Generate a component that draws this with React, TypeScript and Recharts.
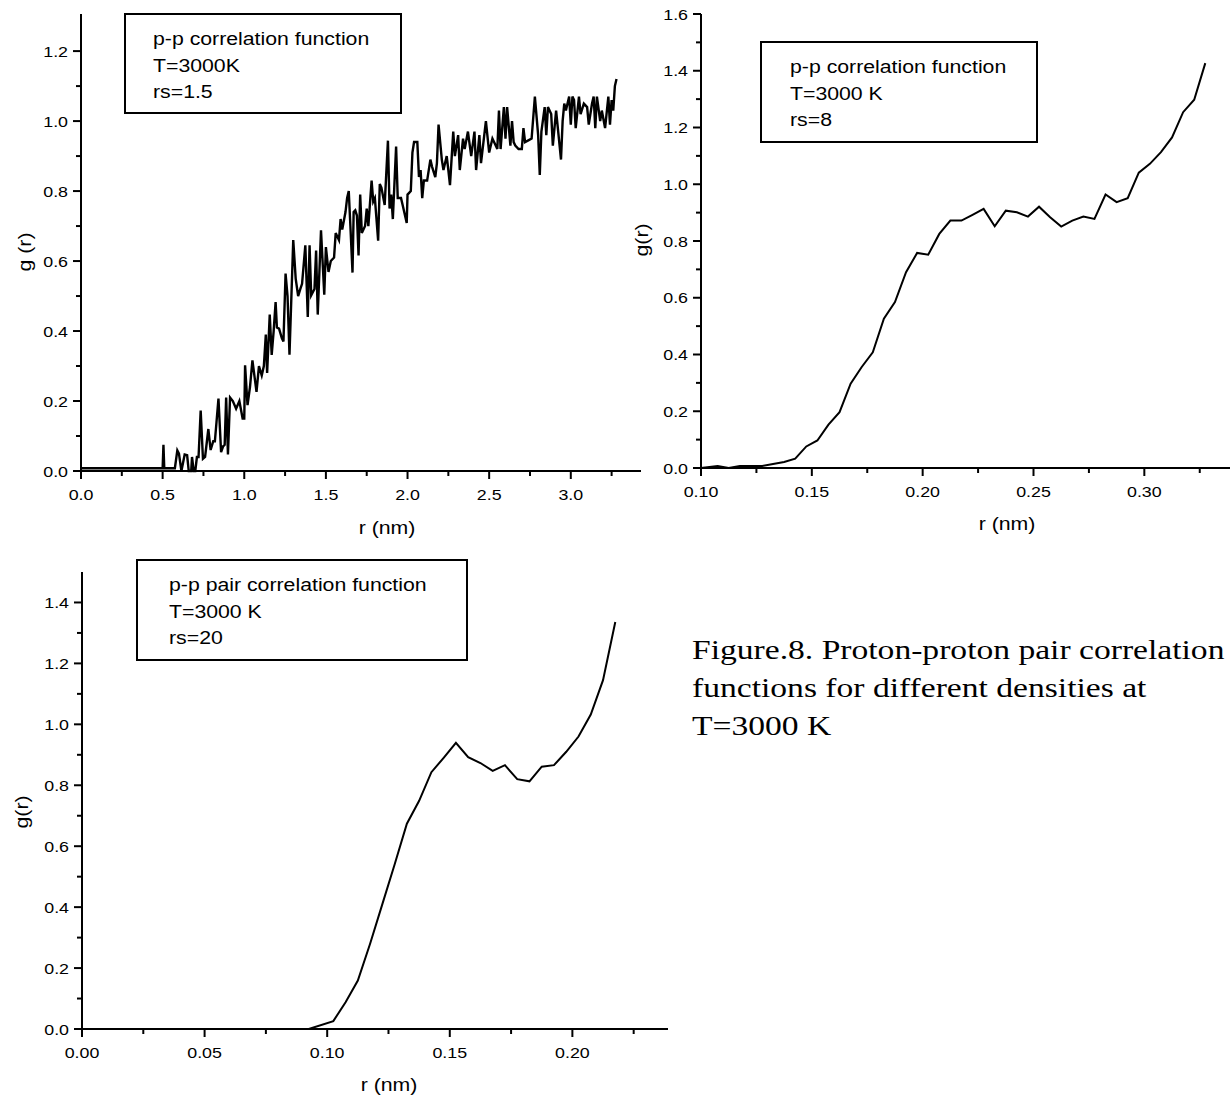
import React from "react";
import { Line, LineChart, XAxis, YAxis } from "recharts";

// text in the scan is a little wider than plain Arial
const SX = 1.15;
const SANS = "'Liberation Sans', Arial, Helvetica, sans-serif";
const SERIF = "'Liberation Serif', 'Times New Roman', serif";

// rs = 1.5
const P1_R = [
  0.0, 0.5, 0.505, 0.51, 0.575, 0.59, 0.6, 0.615, 0.635, 0.65, 0.66, 0.675, 0.68, 0.69, 0.7, 0.71, 0.72,
  0.733, 0.747, 0.76, 0.77, 0.78, 0.794, 0.81, 0.82, 0.83, 0.842, 0.858, 0.87, 0.88, 0.889, 0.9, 0.913,
  0.93, 0.95, 0.97, 0.99, 1.0, 1.005, 1.02, 1.035, 1.05, 1.075, 1.09, 1.107, 1.12, 1.132, 1.14, 1.156,
  1.168, 1.18, 1.192, 1.2, 1.213, 1.23, 1.24, 1.253, 1.265, 1.277, 1.3, 1.315, 1.33, 1.343, 1.354, 1.374,
  1.389, 1.4, 1.41, 1.43, 1.44, 1.45, 1.47, 1.49, 1.5, 1.516, 1.53, 1.55, 1.56, 1.58, 1.59, 1.6, 1.62,
  1.63, 1.64, 1.65, 1.663, 1.67, 1.68, 1.69, 1.7, 1.71, 1.72, 1.74, 1.75, 1.76, 1.78, 1.79, 1.8, 1.82,
  1.83, 1.84, 1.86, 1.88, 1.89, 1.9, 1.91, 1.93, 1.94, 1.96, 1.97, 1.995, 2.0, 2.02, 2.03, 2.04, 2.06,
  2.07, 2.08, 2.09, 2.1, 2.12, 2.14, 2.15, 2.17, 2.18, 2.19, 2.21, 2.22, 2.24, 2.25, 2.26, 2.28, 2.29,
  2.31, 2.32, 2.34, 2.35, 2.37, 2.39, 2.41, 2.42, 2.44, 2.45, 2.47, 2.48, 2.5, 2.52, 2.53, 2.55, 2.56,
  2.57, 2.59, 2.6, 2.61, 2.63, 2.64, 2.65, 2.66, 2.68, 2.7, 2.71, 2.72, 2.74, 2.76, 2.78, 2.8, 2.81,
  2.82, 2.84, 2.85, 2.86, 2.88, 2.89, 2.91, 2.94, 2.95, 2.96, 2.97, 2.99, 3.0, 3.01, 3.02, 3.03, 3.05,
  3.06, 3.08, 3.1, 3.11, 3.13, 3.14, 3.15, 3.16, 3.18, 3.19, 3.21, 3.23, 3.24, 3.25, 3.26, 3.27, 3.28,
];
const P1_G = [
  0.008, 0.008, 0.075, 0.008, 0.008, 0.059, 0.05, 0.0, 0.047, 0.045, 0.0, 0.0, 0.04, 0.0, 0.0, 0.04, 0.04,
  0.173, 0.035, 0.04, 0.08, 0.12, 0.06, 0.085, 0.085, 0.14, 0.207, 0.054, 0.07, 0.075, 0.21, 0.047, 0.21,
  0.2, 0.178, 0.2, 0.15, 0.15, 0.302, 0.188, 0.24, 0.316, 0.226, 0.3, 0.273, 0.3, 0.39, 0.28, 0.447,
  0.332, 0.4, 0.483, 0.41, 0.407, 0.38, 0.37, 0.564, 0.5, 0.332, 0.66, 0.55, 0.5, 0.52, 0.535, 0.645,
  0.44, 0.645, 0.502, 0.52, 0.63, 0.447, 0.688, 0.504, 0.64, 0.569, 0.6, 0.61, 0.68, 0.66, 0.72, 0.69, 0.74,
  0.78, 0.8, 0.7, 0.567, 0.74, 0.745, 0.73, 0.616, 0.79, 0.68, 0.7, 0.75, 0.7, 0.83, 0.77, 0.78, 0.658,
  0.82, 0.81, 0.76, 0.944, 0.75, 0.79, 0.72, 0.927, 0.78, 0.78, 0.76, 0.709, 0.79, 0.8, 0.91, 0.94, 0.94,
  0.84, 0.86, 0.78, 0.83, 0.83, 0.89, 0.87, 0.84, 0.88, 0.99, 0.89, 0.86, 0.9, 0.86, 0.817, 0.97, 0.9,
  0.96, 0.86, 0.95, 0.92, 0.97, 0.9, 0.97, 0.86, 0.96, 0.88, 0.96, 1.0, 0.91, 0.95, 0.94, 0.92, 1.03,
  0.92, 1.04, 0.95, 1.04, 0.93, 1.0, 0.94, 0.93, 0.92, 0.92, 0.98, 0.94, 0.945, 0.95, 1.07, 0.96, 0.846,
  0.97, 1.04, 0.96, 1.04, 1.02, 0.93, 1.03, 0.89, 1.0, 1.05, 1.03, 1.07, 0.99, 1.07, 1.06, 0.98, 1.07,
  1.02, 1.05, 1.04, 0.99, 1.05, 1.07, 0.98, 1.07, 1.0, 1.03, 0.98, 1.07, 0.99, 1.06, 1.03, 1.1, 1.12,
];
const P1_X_TICKS = [0, 0.25, 0.5, 0.75, 1.0, 1.25, 1.5, 1.75, 2.0, 2.25, 2.5, 2.75, 3.0, 3.25];
const P1_X_LABELS = [0, 0.5, 1.0, 1.5, 2.0, 2.5, 3.0];
const P1_Y_TICKS = [0, 0.1, 0.2, 0.3, 0.4, 0.5, 0.6, 0.7, 0.8, 0.9, 1.0, 1.1, 1.2];
const P1_Y_LABELS = [0, 0.2, 0.4, 0.6, 0.8, 1.0, 1.2];

// rs = 8
const P2_R = [
  0.1, 0.1075, 0.1125, 0.1175, 0.1225, 0.1275, 0.1325, 0.1375, 0.1425, 0.1475, 0.1525, 0.1575, 0.1625,
  0.1675, 0.1725, 0.1775, 0.1825, 0.1875, 0.1925, 0.1975, 0.2025, 0.2075, 0.2125, 0.2175, 0.2225, 0.2275,
  0.2325, 0.2375, 0.2425, 0.2475, 0.2525, 0.2575, 0.2625, 0.2675, 0.2725, 0.2775, 0.2825, 0.2875, 0.2925,
  0.2975, 0.3025, 0.3075, 0.3125, 0.3175, 0.3225, 0.3275,
];
const P2_G = [
  0, 0.007, 0, 0.007, 0.007, 0.007, 0.014, 0.021, 0.033, 0.076, 0.097, 0.153, 0.197, 0.297, 0.356, 0.408,
  0.526, 0.585, 0.69, 0.758, 0.752, 0.825, 0.872, 0.872, 0.892, 0.913, 0.852, 0.907, 0.901, 0.886, 0.921,
  0.884, 0.851, 0.872, 0.886, 0.878, 0.964, 0.937, 0.951, 1.041, 1.072, 1.113, 1.165, 1.254, 1.298, 1.427,
];
const P2_X_TICKS = [0.1, 0.125, 0.15, 0.175, 0.2, 0.225, 0.25, 0.275, 0.3, 0.325];
const P2_X_LABELS = [0.1, 0.15, 0.2, 0.25, 0.3];
const P2_Y_TICKS = [0, 0.1, 0.2, 0.3, 0.4, 0.5, 0.6, 0.7, 0.8, 0.9, 1.0, 1.1, 1.2, 1.3, 1.4, 1.5, 1.6];
const P2_Y_LABELS = [0, 0.2, 0.4, 0.6, 0.8, 1.0, 1.2, 1.4, 1.6];

// rs = 20
const P3_R = [
  0.0025, 0.0925, 0.1025, 0.1075, 0.1125, 0.1175, 0.1225, 0.1275, 0.1325, 0.1375, 0.1425, 0.1475, 0.1525,
  0.1575, 0.1625, 0.1675, 0.1725, 0.1775, 0.1825, 0.1875, 0.1925, 0.1975, 0.2025, 0.2075, 0.2125, 0.2175,
];
const P3_G = [
  0, 0, 0.026, 0.088, 0.159, 0.28, 0.41, 0.54, 0.674, 0.749, 0.843, 0.89, 0.939, 0.892, 0.873, 0.847,
  0.866, 0.82, 0.813, 0.861, 0.866, 0.91, 0.96, 1.032, 1.145, 1.336,
];
const P3_X_TICKS = [0, 0.025, 0.05, 0.075, 0.1, 0.125, 0.15, 0.175, 0.2, 0.225];
const P3_X_LABELS = [0, 0.05, 0.1, 0.15, 0.2];
const P3_Y_TICKS = [0, 0.1, 0.2, 0.3, 0.4, 0.5, 0.6, 0.7, 0.8, 0.9, 1.0, 1.1, 1.2, 1.3, 1.4];
const P3_Y_LABELS = [0, 0.2, 0.4, 0.6, 0.8, 1.0, 1.2, 1.4];

const CAPTION = [
  "Figure.8. Proton-proton pair correlation",
  "functions for different densities at",
  "T=3000 K",
];

const toRows = (r: number[], g: number[]) => r.map((v, i) => ({ r: v, g: g[i] }));
const isLabel = (v: number, labels: number[]) => labels.some((m) => Math.abs(m - v) < 1e-6);

const xTick = (labels: number[], digits: number) => (props: any) => {
  const { x, y, payload } = props;
  const big = isLabel(payload.value, labels);
  return (
    <g transform={`translate(${x},${y})`}>
      <line x1={0} y1={0} x2={0} y2={big ? 8 : 5} stroke="#000" strokeWidth={2} />
      {big && (
        <text transform={`translate(0,29) scale(${SX},1)`} textAnchor="middle" fontSize={15.5} fontFamily={SANS} fill="#000">
          {payload.value.toFixed(digits)}
        </text>
      )}
    </g>
  );
};

const yTick = (labels: number[]) => (props: any) => {
  const { x, y, payload } = props;
  const big = isLabel(payload.value, labels);
  return (
    <g transform={`translate(${x},${y})`}>
      <line x1={0} y1={0} x2={big ? -8 : -5} y2={0} stroke="#000" strokeWidth={2} />
      {big && (
        <text transform={`translate(-13,5.5) scale(${SX},1)`} textAnchor="end" fontSize={15.5} fontFamily={SANS} fill="#000">
          {payload.value.toFixed(1)}
        </text>
      )}
    </g>
  );
};

interface PanelProps {
  data: { r: number; g: number }[];
  left: number;
  top: number;
  width: number;
  height: number;
  margin: { top: number; right: number; bottom: number; left: number };
  yWidth: number;
  xHeight: number;
  xDomain: [number, number];
  yDomain: [number, number];
  xTicks: number[];
  xLabels: number[];
  xDigits: number;
  yTicks: number[];
  yLabels: number[];
  yTitle: string;
  xTitleAt: [number, number];
  yTitleAt: [number, number];
  lineWidth: number;
}

function Panel(p: PanelProps) {
  return (
    <div style={{ position: "absolute", left: p.left, top: p.top }}>
      <LineChart width={p.width} height={p.height} data={p.data} margin={p.margin}>
        <XAxis
          type="number"
          dataKey="r"
          domain={p.xDomain}
          ticks={p.xTicks}
          interval={0}
          height={p.xHeight}
          tickSize={0}
          tickMargin={0}
          tickLine={false}
          axisLine={{ stroke: "#000", strokeWidth: 2 }}
          tick={xTick(p.xLabels, p.xDigits)}
          label={{
            content: () => (
              <text
                transform={`translate(${p.xTitleAt[0]},${p.xTitleAt[1]}) scale(${SX},1)`}
                textAnchor="middle"
                fontSize={18.5}
                fontFamily={SANS}
                fill="#000"
              >
                r (nm)
              </text>
            ),
          }}
        />
        <YAxis
          type="number"
          dataKey="g"
          domain={p.yDomain}
          ticks={p.yTicks}
          interval={0}
          width={p.yWidth}
          tickSize={0}
          tickMargin={0}
          tickLine={false}
          axisLine={{ stroke: "#000", strokeWidth: 2 }}
          tick={yTick(p.yLabels)}
          label={{
            content: () => (
              <text
                transform={`translate(${p.yTitleAt[0]},${p.yTitleAt[1]}) rotate(-90) scale(${SX},1)`}
                textAnchor="middle"
                dominantBaseline="central"
                fontSize={18.5}
                fontFamily={SANS}
                fill="#000"
              >
                {p.yTitle}
              </text>
            ),
          }}
        />
        <Line type="linear" dataKey="g" stroke="#000" strokeWidth={p.lineWidth} dot={false} isAnimationActive={false} />
      </LineChart>
    </div>
  );
}

function InfoBox({ x, y, w, h, lines, indent }: { x: number; y: number; w: number; h: number; lines: string[]; indent: number }) {
  return (
    <g>
      <rect x={x} y={y} width={w} height={h} fill="none" stroke="#000" strokeWidth={2} />
      {lines.map((t, i) => (
        <text
          key={i}
          transform={`translate(${x + indent},${y + 31 + i * 26.5}) scale(${SX},1)`}
          fontSize={18.5}
          fontFamily={SANS}
          fill="#000"
        >
          {t}
        </text>
      ))}
    </g>
  );
}

export default function App() {
  return (
    <div style={{ position: "absolute", left: 0, top: 0, width: 1230, height: 1097, overflow: "hidden", background: "#fff" }}>
      <Panel
        data={toRows(P1_R, P1_G)}
        left={0}
        top={0}
        width={660}
        height={540}
        margin={{ top: 14, right: 19, bottom: 0, left: 0 }}
        yWidth={81}
        xHeight={69}
        xDomain={[0, 3.43]}
        yDomain={[0, 1.306]}
        xTicks={P1_X_TICKS}
        xLabels={P1_X_LABELS}
        xDigits={1}
        yTicks={P1_Y_TICKS}
        yLabels={P1_Y_LABELS}
        yTitle="g (r)"
        xTitleAt={[387, 534]}
        yTitleAt={[25, 252]}
        lineWidth={2.4}
      />
      <Panel
        data={toRows(P2_R, P2_G)}
        left={620}
        top={0}
        width={620}
        height={540}
        margin={{ top: 14, right: 7, bottom: 0, left: 0 }}
        yWidth={81}
        xHeight={72}
        xDomain={[0.1, 0.34]}
        yDomain={[0, 1.6]}
        xTicks={P2_X_TICKS}
        xLabels={P2_X_LABELS}
        xDigits={2}
        yTicks={P2_Y_TICKS}
        yLabels={P2_Y_LABELS}
        yTitle="g(r)"
        xTitleAt={[387, 530]}
        yTitleAt={[22, 240]}
        lineWidth={2}
      />
      <Panel
        data={toRows(P3_R, P3_G)}
        left={0}
        top={550}
        width={690}
        height={547}
        margin={{ top: 22, right: 22, bottom: 0, left: 0 }}
        yWidth={82}
        xHeight={68}
        xDomain={[0, 0.239]}
        yDomain={[0, 1.5]}
        xTicks={P3_X_TICKS}
        xLabels={P3_X_LABELS}
        xDigits={2}
        yTicks={P3_Y_TICKS}
        yLabels={P3_Y_LABELS}
        yTitle="g(r)"
        xTitleAt={[389, 541]}
        yTitleAt={[22, 262]}
        lineWidth={2}
      />
      <svg width={1230} height={1097} style={{ position: "absolute", left: 0, top: 0, pointerEvents: "none" }}>
        <InfoBox x={125} y={14} w={276} h={99} indent={28} lines={["p-p correlation function", "T=3000K", "rs=1.5"]} />
        <InfoBox x={761} y={42} w={276} h={100} indent={29} lines={["p-p correlation function", "T=3000 K", "rs=8"]} />
        <InfoBox x={137} y={560} w={330} h={100} indent={32} lines={["p-p pair correlation function", "T=3000 K", "rs=20"]} />
        {CAPTION.map((t, i) => (
          <text
            key={i}
            transform={`translate(692,${659 + i * 38}) scale(1.2,1)`}
            fontSize={28}
            fontFamily={SERIF}
            fill="#000"
          >
            {t}
          </text>
        ))}
      </svg>
    </div>
  );
}
